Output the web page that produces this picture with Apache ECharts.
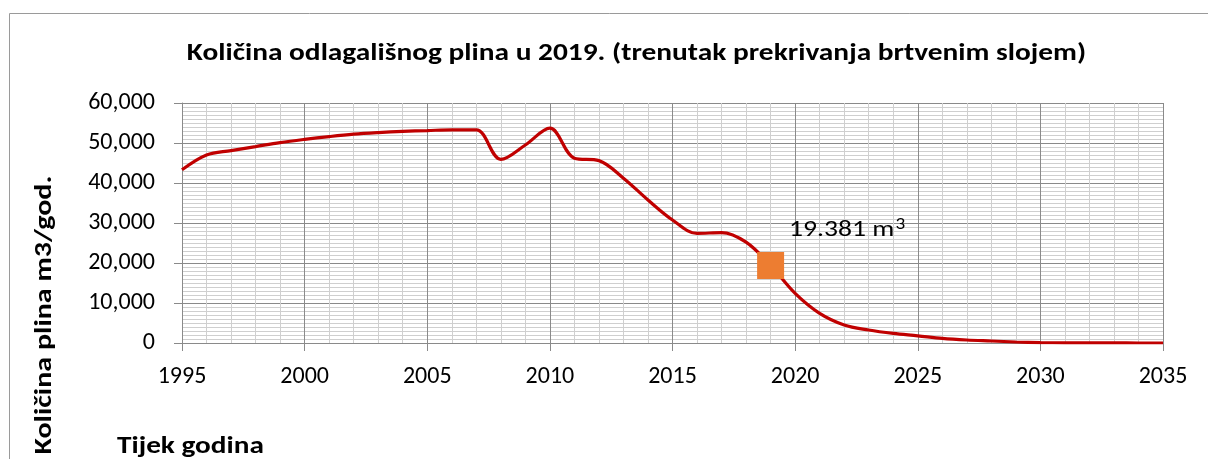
<!DOCTYPE html>
<html>
<head>
<meta charset="utf-8">
<script src="https://cdn.jsdelivr.net/npm/echarts@6/dist/echarts.min.js"></script>
<style>
html,body{margin:0;padding:0;background:#fff;}
#chart{width:1208px;height:459px;}
</style>
</head>
<body>
<div id="chart"></div>
<script>
const titleText = 'Količina odlagališnog plina u 2019. (trenutak prekrivanja brtvenim slojem)';
const yAxisTitle = 'Količina plina m3/god.';
const xAxisTitle = 'Tijek godina';
const years = [1995,1996,1997,1998,1999,2000,2001,2002,2003,2004,2005,2006,2007,2008,2009,2010,2011,2012,2013,2014,2015,2016,2017,2018,2019,2020,2021,2022,2023,2024,2025,2026,2027,2028,2029,2030,2031,2032,2033,2034,2035];
const gasValues = [43300,47000,48100,49100,50100,50900,51600,52200,52600,52900,53100,53300,53300,45900,49500,53700,46200,45600,41200,35750,30750,27400,27600,25200,19381,12400,7400,4500,3250,2400,1800,1150,750,500,250,100,50,20,10,5,0];
const markerYear = 2019;
const markerValue = 19381;
const markerLabel = '19.381 m';
const markerSup = '3';

const FONT = 'Carlito, Calibri, Lato, sans-serif';
const chart = echarts.init(document.getElementById('chart'), null, {renderer:'canvas'});
const lineData = years.map((y,i)=>[y, gasValues[i]]);
chart.setOption({
  animation:false,
  backgroundColor:'#fff',
  grid:{left:182, right:45, top:103, bottom:116},
  xAxis:{
    type:'value', min:1995, max:2035, interval:5,
    axisLine:{show:true, lineStyle:{color:'#8a8a8a', width:1}},
    axisTick:{show:true, length:8, lineStyle:{color:'#8a8a8a'}},
    axisLabel:{fontFamily:FONT, fontSize:24, color:'#000', margin:22, formatter:v=>String(v)},
    splitLine:{show:true, lineStyle:{color:'#8a8a8a', width:1}},
    minorTick:{show:false, splitNumber:5},
    minorSplitLine:{show:true, lineStyle:{color:'#cfcfcf', width:1}}
  },
  yAxis:{
    type:'value', min:0, max:60000, interval:10000,
    axisLine:{show:true, lineStyle:{color:'#8a8a8a', width:1}},
    axisTick:{show:true, length:8, lineStyle:{color:'#8a8a8a'}},
    axisLabel:{fontFamily:FONT, fontSize:24, color:'#000', margin:27,
      formatter:v=> v===0 ? '0' : v.toLocaleString('en-US')},
    splitLine:{show:true, lineStyle:{color:'#8a8a8a', width:1}},
    minorTick:{show:false, splitNumber:10},
    minorSplitLine:{show:true, lineStyle:{color:'#cfcfcf', width:1}}
  },
  graphic:[
    {id:'frame', type:'rect', shape:{x:9.5, y:13.5, width:1300, height:600}, style:{fill:'none', stroke:'#9a9a9a', lineWidth:1}, silent:true, z:-1},
    {id:'title', type:'text', x:636.5, y:54, scaleX:1.175, z:100, style:{text:titleText, font:'bold 25px '+FONT, fill:'#000', align:'center', verticalAlign:'middle'}},
    {id:'xname', type:'text', x:117, y:447, scaleX:1.17, z:100, style:{text:xAxisTitle, font:'bold 25px '+FONT, fill:'#000', align:'left', verticalAlign:'middle'}},
    {id:'yname', type:'text', x:45, y:315, rotation:Math.PI/2, scaleX:1.25, z:100, style:{text:yAxisTitle, font:'bold 24px '+FONT, fill:'#000', align:'center', verticalAlign:'middle'}}
  ],
  series:[
    {type:'line', data:lineData, smooth:0.35, symbol:'none',
     lineStyle:{color:'#C00000', width:3.2}, z:3},
    {type:'scatter', data:[[markerYear, markerValue]], symbol:'rect', symbolSize:27,
     itemStyle:{color:'#ED7D31', opacity:1}, z:4}
  ]
});
const p = chart.convertToPixel({seriesIndex:1}, [markerYear, markerValue]);
chart.setOption({
  graphic:[
    {id:'annot', type:'text', x:p[0]+18.5, y:p[1]-35, scaleX:1.2, z:100,
     style:{text:'{a|'+markerLabel+'}{s|'+markerSup+'}', align:'left', verticalAlign:'middle',
       rich:{
         a:{fontFamily:FONT, fontSize:23, lineHeight:26, color:'#000'},
         s:{fontFamily:FONT, fontSize:16, lineHeight:16, color:'#000', verticalAlign:'top', padding:[0,0,0,1]}
       }}}
  ]
});
</script>
</body>
</html>
